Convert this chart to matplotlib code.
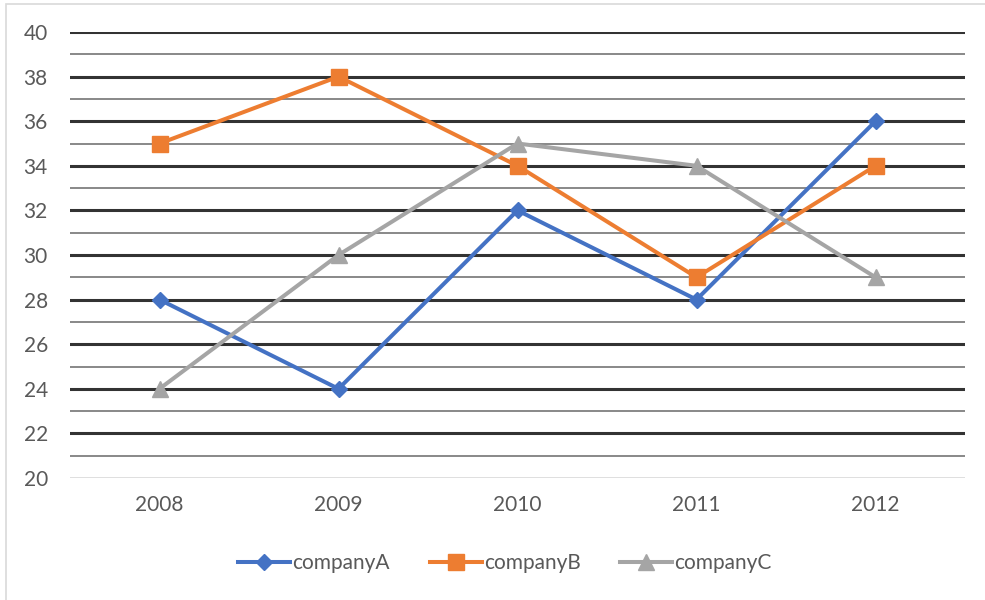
import matplotlib.pyplot as plt
from matplotlib.patches import Rectangle

YEARS = ["2008", "2009", "2010", "2011", "2012"]
COMPANY_A = [28, 24, 32, 28, 36]
COMPANY_B = [35, 38, 34, 29, 34]
COMPANY_C = [24, 30, 35, 34, 29]

plt.rcParams["font.family"] = ["Lato", "DejaVu Sans"]
TEXT = "#595959"

fig = plt.figure(figsize=(9.85, 6), dpi=100)
ax = fig.add_axes([70 / 985, 122 / 600, 895 / 985, 446 / 600])

# chart area border
fig.patches.append(Rectangle((6 / 985, -0.1), 1.2, 1.1 - 4 / 600, transform=fig.transFigure,
                             fill=False, edgecolor="#D9D9D9", linewidth=1.2))

x = [i + 0.5 for i in range(len(YEARS))]

# gridlines: thick at even, thin at odd
for v in range(21, 41):
    if v % 2 == 0:
        ax.axhline(v, color="#333333", linewidth=2.2, zorder=1)
    else:
        ax.axhline(v, color="#7F7F7F", linewidth=1.3, zorder=1)
ax.axhline(20, color="#D9D9D9", linewidth=1.2, zorder=1)

ax.plot(x, COMPANY_A, color="#4472C4", linewidth=2.9, marker="D", markersize=8,
        label="companyA", zorder=3)
ax.plot(x, COMPANY_B, color="#ED7D31", linewidth=2.9, marker="s", markersize=11,
        label="companyB", zorder=3)
ax.plot(x, COMPANY_C, color="#A5A5A5", linewidth=2.9, marker="^", markersize=11,
        label="companyC", zorder=3)

ax.set_xlim(0, 5)
ax.set_ylim(20, 40)
ax.set_yticks(range(20, 41, 2))
ax.set_xticks(x)
ax.set_xticklabels(YEARS)
ax.tick_params(length=0, labelsize=15, labelcolor=TEXT)
ax.tick_params(axis="y", pad=16)
ax.tick_params(axis="x", pad=12)
for s in ax.spines.values():
    s.set_visible(False)

fig.legend(loc="center", bbox_to_anchor=(505 / 985, 1 - 563 / 600), ncol=3, frameon=False,
           fontsize=15, labelcolor=TEXT, handlelength=2.5, handletextpad=0.1, columnspacing=1.9)

fig.savefig("out.png", dpi=100)
